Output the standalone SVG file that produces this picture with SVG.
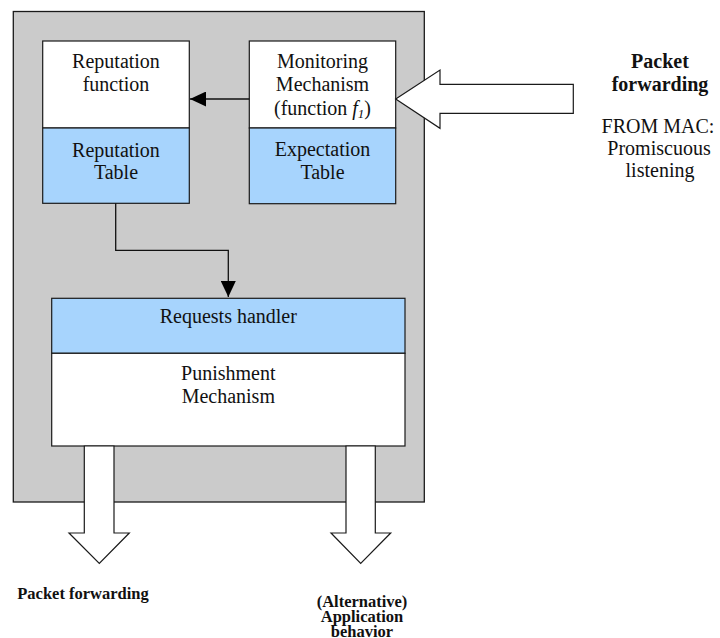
<svg xmlns="http://www.w3.org/2000/svg" width="720" height="638" viewBox="0 0 720 638">
<style>
.box{stroke:#1a1a1a;stroke-width:1.2}
.w{fill:#ffffff}
.b{fill:#a7d4fd}
.t{font-family:"Liberation Serif","Times New Roman",serif;font-size:20px;fill:#111;text-anchor:middle}
.bold{font-weight:bold}
.s{font-size:16.5px}
.big{fill:#ffffff;stroke:#1a1a1a;stroke-width:1.2;stroke-linejoin:miter}
.conn{fill:none;stroke:#111;stroke-width:1.3}
</style>
<defs>
<marker id="ah" viewBox="0 0 16 15" refX="16" refY="7.5" markerWidth="16" markerHeight="15" orient="auto" markerUnits="userSpaceOnUse">
<path d="M0,0 L16,7.5 L0,15 z" fill="#000"/>
</marker>
</defs>
<rect width="720" height="638" fill="#ffffff"/>
<g id="container">
<rect x="13.3" y="11.5" width="411" height="490.5" fill="#cbcbcb" stroke="#1a1a1a" stroke-width="1.3"/>
</g>
<g id="reputation-function">
<rect class="box w" x="42.7" y="41" width="146.6" height="87"/>
<text class="t" x="116" y="68">Reputation</text>
<text class="t" x="116" y="91">function</text>
</g>
<g id="reputation-table">
<rect class="box b" x="42.7" y="128" width="146.6" height="75.3"/>
<text class="t" x="116" y="157">Reputation</text>
<text class="t" x="116" y="179">Table</text>
</g>
<g id="monitoring-mechanism">
<rect class="box w" x="249.3" y="41" width="146.4" height="87"/>
<text class="t" x="322.5" y="68">Monitoring</text>
<text class="t" x="322.5" y="91">Mechanism</text>
<text class="t" x="322.5" y="115">(function <tspan font-style="italic">f</tspan><tspan font-style="italic" font-size="13" dy="3">1</tspan><tspan dy="-3">)</tspan></text>
</g>
<g id="expectation-table">
<rect class="box b" x="249.3" y="128" width="146.4" height="75.7"/>
<text class="t" x="322.5" y="156">Expectation</text>
<text class="t" x="322.5" y="179">Table</text>
</g>
<g id="requests-handler">
<rect class="box b" x="51.7" y="298.3" width="353.3" height="55"/>
<text class="t" x="228.3" y="323">Requests handler</text>
</g>
<g id="punishment-mechanism">
<rect class="box w" x="51.7" y="353.3" width="353.3" height="92.7"/>
<text class="t" x="228.3" y="380">Punishment</text>
<text class="t" x="228.3" y="403">Mechanism</text>
</g>
<g id="connectors">
<line class="conn" x1="249.3" y1="99" x2="190" y2="99" marker-end="url(#ah)"/>
<path class="conn" d="M115.7,203.3 V250.3 H228.3 V297" marker-end="url(#ah)"/>
<polygon class="big" points="573.3,84.3 440,84.3 440,70 395.7,99 440,128.3 440,113.3 573.3,113.3"/>
<polygon class="big" points="84.3,446 114,446 114,533 129.3,533 99.3,563.3 69,533 84.3,533"/>
<polygon class="big" points="346,446 375.3,446 375.3,533 390.7,533 360.7,563.3 331,533 346,533"/>
</g>
<g id="input-label">
<text class="t bold" x="660" y="68">Packet</text>
<text class="t bold" x="660" y="91">forwarding</text>
<text class="t" x="658" y="133">FROM MAC:</text>
<text class="t" x="659" y="155">Promiscuous</text>
<text class="t" x="660" y="177">listening</text>
</g>
<g id="output-labels">
<text class="t bold s" x="83" y="599">Packet forwarding</text>
<text class="t bold s" x="362" y="606.5">(Alternative)</text>
<text class="t bold s" x="362" y="621.5">Application</text>
<text class="t bold s" x="362" y="636.5">behavior</text>
</g>
</svg>
